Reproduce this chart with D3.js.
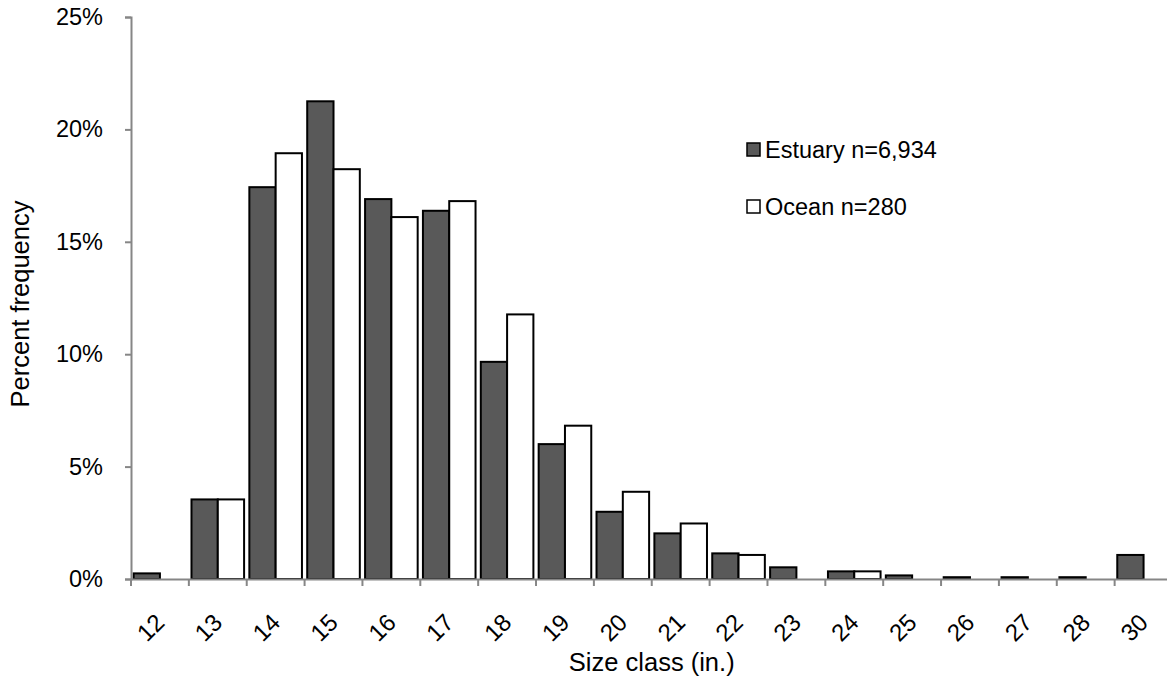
<!DOCTYPE html>
<html>
<head>
<meta charset="utf-8">
<script src="https://cdn.jsdelivr.net/npm/d3@7"></script>
<style>
  html, body { margin: 0; padding: 0; background: #fff; }
  svg { display: block; font-family: "Liberation Sans", Arial, sans-serif; }
</style>
</head>
<body>
<svg id="chart" width="1167" height="677"></svg>
<script>
const categories = ["12","13","14","15","16","17","18","19","20","21","22","23","24","25","26","27","28","30"];
const estuary = [0.25, 3.54, 17.43, 21.25, 16.90, 16.38, 9.66, 6.00, 2.99, 2.03, 1.14, 0.52, 0.34, 0.16, 0.08, 0.08, 0.08, 1.07];
const ocean   = [0, 3.54, 18.94, 18.23, 16.10, 16.81, 11.77, 6.82, 3.88, 2.47, 1.07, 0, 0.34, 0, 0, 0, 0, 0];
const yTicks = [0, 5, 10, 15, 20, 25];
const seriesNames = ["Estuary n=6,934", "Ocean n=280"];
const seriesFill = ["#595959", "#ffffff"];

(function () {
const svg = d3.select("#chart");
const mLeft = 131, mRight = 1172.5, mTop = 17, mBottom = 579;
const axisColor = "#868686";

const x = d3.scaleBand().domain(categories).range([mLeft, mRight]).paddingInner(0).paddingOuter(0);
const xs = d3.scaleBand().domain([0, 1]).range([0, x.bandwidth()]).paddingInner(0).paddingOuter(0.1);
const y = d3.scaleLinear().domain([0, 25]).range([mBottom, mTop]);

// bars
const data = categories.map((c, i) => ({ c, vals: [estuary[i], ocean[i]] }));
const groups = svg.append("g").selectAll("g").data(data).join("g")
  .attr("transform", d => `translate(${x(d.c)},0)`);
groups.selectAll("rect").data(d => d.vals.map((v, s) => ({ v, s })).filter(e => e.v > 0))
  .join("rect")
  .attr("x", e => xs(e.s))
  .attr("width", xs.bandwidth())
  .attr("y", e => y(e.v))
  .attr("height", e => y(0) - y(e.v))
  .attr("fill", e => seriesFill[e.s])
  .attr("stroke", "#000")
  .attr("stroke-width", 2);

// y axis
const yAxis = d3.axisLeft(y).tickValues(yTicks).tickFormat(d => d + "%").tickSize(6).tickPadding(22);
const gy = svg.append("g").attr("transform", `translate(${mLeft},0)`).call(yAxis);
gy.select(".domain").attr("stroke", axisColor).attr("stroke-width", 2);
gy.selectAll(".tick line").attr("stroke", axisColor).attr("stroke-width", 2);
gy.selectAll(".tick text").attr("fill", "#000").style("font-size", "23.5px").attr("font-family", "Liberation Sans, Arial, sans-serif");

// x axis
const tickPos = categories.map(c => x(c));
const xAxis = d3.axisBottom(x).tickSize(0).tickFormat("");
const gx = svg.append("g").attr("transform", `translate(0,${mBottom})`).call(xAxis);
gx.select(".domain").attr("stroke", axisColor).attr("stroke-width", 2);
gx.selectAll(".tick").remove();
gx.selectAll("line.sep").data(tickPos).join("line").attr("class", "sep")
  .attr("x1", d => d).attr("x2", d => d).attr("y1", 0).attr("y2", 7)
  .attr("stroke", axisColor).attr("stroke-width", 2);
gx.selectAll("text.lab").data(categories).join("text").attr("class", "lab")
  .attr("transform", d => `translate(${x(d) + x.bandwidth() / 2},${39}) rotate(-45)`)
  .attr("text-anchor", "end")
  .attr("dy", "0.35em")
  .style("font-size", "24px")
  .attr("fill", "#000")
  .text(d => d);

// axis titles
svg.append("text").attr("x", (mLeft + mRight) / 2).attr("y", 671)
  .attr("text-anchor", "middle").style("font-size", "25.5px").text("Size class (in.)");
svg.append("text").attr("transform", `translate(29,${(mTop + mBottom) / 2 + 6}) rotate(-90)`)
  .attr("text-anchor", "middle").style("font-size", "25.5px").text("Percent frequency");

// legend
const legend = svg.append("g").attr("transform", "translate(746,150)");
seriesNames.forEach((name, i) => {
  const g = legend.append("g").attr("transform", `translate(0,${i * 57})`);
  g.append("rect").attr("x", 1).attr("y", -7).attr("width", 13).attr("height", 13)
    .attr("fill", seriesFill[i]).attr("stroke", "#000").attr("stroke-width", 1.5);
  g.append("text").attr("x", 19).attr("y", 0).attr("dy", "0.35em")
    .style("font-size", "23.5px").text(name);
});
})();
</script>
</body>
</html>
